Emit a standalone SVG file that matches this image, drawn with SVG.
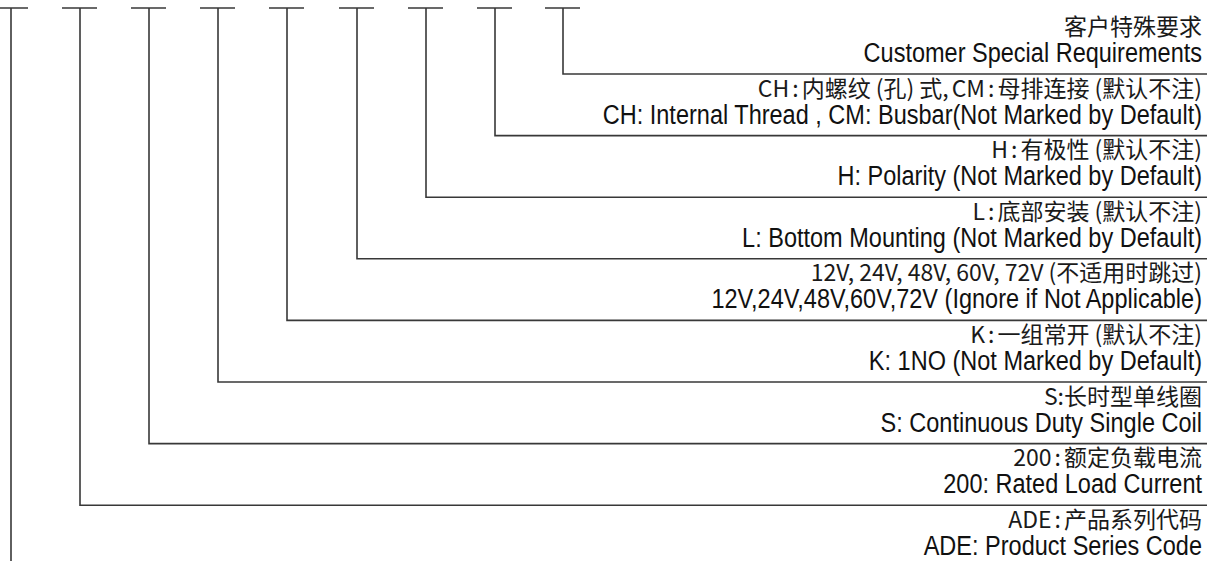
<svg xmlns="http://www.w3.org/2000/svg" width="1207" height="561" viewBox="0 0 1207 561">
<style>
.ln{fill:none;stroke:#383838;stroke-width:1.6}
.cn{font-family:"Noto Sans CJK SC","Noto Sans",sans-serif;font-size:23px;fill:#1a1a1a;text-anchor:end}
.en{font-family:"Liberation Sans",Arial,sans-serif;font-size:28px;fill:#111;text-anchor:end}
</style>
<rect width="1207" height="561" fill="#fff"/>
<g id="connectors">
<path class="ln" d="M-7,8H28M62,8H97M131,8H166M200,8H235M269,8H304M339,8H374M408,8H443M477,8H512M545,8H580"/>
<path class="ln" d="M563,8V74H1207"/>
<path class="ln" d="M495,8V135.6H1207"/>
<path class="ln" d="M426,8V197.2H1207"/>
<path class="ln" d="M357,8V258.8H1207"/>
<path class="ln" d="M287,8V320.4H1207"/>
<path class="ln" d="M218,8V382H1207"/>
<path class="ln" d="M149,8V443.6H1207"/>
<path class="ln" d="M80,8V505.2H1207"/>
<path class="ln" d="M11,8V561"/>
</g>
<g id="n-custom">
<text class="cn" x="1202" y="35">客户特殊要求</text>
<text class="en" transform="translate(1202,62) scale(0.84,1)">Customer Special Requirements</text>
</g>
<g id="n-ch">
<text class="cn" x="1202" y="96.6" dx="0 0 3 3 0 0 5 0 0 5 0 3 0 3 3 0 0 0 5 0 0 0 0 0">CH:内螺纹(孔)式,CM:母排连接(默认不注)</text>
<text class="en" transform="translate(1202,123.6) scale(0.84,1)">CH: Internal Thread , CM: Busbar(Not Marked by Default)</text>
</g>
<g id="n-h">
<text class="cn" x="1202" y="158.2" dx="0 3 3 0 0 5 0 0 0 0 0">H:有极性(默认不注)</text>
<text class="en" transform="translate(1202,185.2) scale(0.84,1)">H: Polarity (Not Marked by Default)</text>
</g>
<g id="n-l">
<text class="cn" x="1202" y="219.8" dx="0 3 3 0 0 0 5 0 0 0 0 0">L:底部安装(默认不注)</text>
<text class="en" transform="translate(1202,246.8) scale(0.84,1)">L: Bottom Mounting (Not Marked by Default)</text>
</g>
<g id="n-v">
<text class="cn" x="1202" y="281.4" dx="0 0 0 0 5 0 0 0 5 0 0 0 5 0 0 0 5 0 0 5 0 0 0 0 0 0 0">12V,24V,48V,60V,72V(不适用时跳过)</text>
<text class="en" transform="translate(1202,308.4) scale(0.84,1)">12V,24V,48V,60V,72V (Ignore if Not Applicable)</text>
</g>
<g id="n-k">
<text class="cn" x="1202" y="343" dx="0 3 3 0 0 0 5 0 0 0 0 0">K:一组常开(默认不注)</text>
<text class="en" transform="translate(1202,370) scale(0.84,1)">K: 1NO (Not Marked by Default)</text>
</g>
<g id="n-s">
<text class="cn" x="1202" y="404.6">S:长时型单线圈</text>
<text class="en" transform="translate(1202,431.6) scale(0.84,1)">S: Continuous Duty Single Coil</text>
</g>
<g id="n-200">
<text class="cn" x="1202" y="466.2" dx="0 0 0 3 3 0 0 0 0 0">200:额定负载电流</text>
<text class="en" transform="translate(1202,493.2) scale(0.84,1)">200: Rated Load Current</text>
</g>
<g id="n-ade">
<text class="cn" x="1202" y="527.8" dx="0 0 0 3 3 0 0 0 0 0">ADE:产品系列代码</text>
<text class="en" transform="translate(1202,554.8) scale(0.84,1)">ADE: Product Series Code</text>
</g>
</svg>
